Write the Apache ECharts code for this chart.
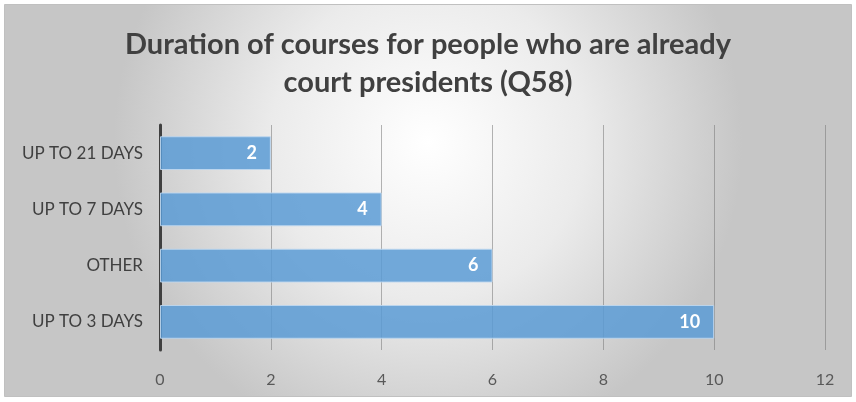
<!DOCTYPE html>
<html>
<head>
<meta charset="utf-8">
<script src="https://cdn.jsdelivr.net/npm/echarts@6/dist/echarts.min.js"></script>
<style>
  html, body { margin: 0; padding: 0; background: #ffffff; }
  #chart { width: 856px; height: 402px; }
</style>
</head>
<body>
<div id="chart"></div>
<script>
// Course duration categories, listed bottom-to-top as drawn on the category axis
const categories = ['UP TO 3 DAYS', 'OTHER', 'UP TO 7 DAYS', 'UP TO 21 DAYS'];
const counts = [10, 6, 4, 2];
const titleLines = ['Duration of courses for people who are already', 'court presidents (Q58)'];
const axisMax = 12;
const axisStep = 2;

const chart = echarts.init(document.getElementById('chart'), null, { renderer: 'canvas' });

chart.setOption({
  animation: false,
  backgroundColor: '#ffffff',
  graphic: [{
    type: 'rect',
    z: -10,
    silent: true,
    shape: { x: 4.5, y: 4.5, width: 847, height: 392 },
    style: {
      fill: {
        type: 'radial', x: 0.5, y: 0.35, r: 0.8,
        colorStops: [
          { offset: 0, color: '#ffffff' },
          { offset: 0.5, color: '#ebebeb' },
          { offset: 1, color: '#c6c6c6' }
        ]
      },
      stroke: '#c0c0c0',
      lineWidth: 1
    }
  }],
  title: {
    text: titleLines.join('\n'),
    left: 'center',
    top: 21,
    textStyle: {
      fontFamily: 'Lato',
      fontWeight: 'bold',
      fontSize: 29,
      color: '#404040',
      lineHeight: 38
    }
  },
  grid: {
    left: 160,
    right: 31,
    top: 125,
    bottom: 52,
    containLabel: false
  },
  xAxis: {
    type: 'value',
    min: 0,
    max: axisMax,
    interval: axisStep,
    axisLine: { show: false },
    axisTick: { show: false },
    axisLabel: {
      margin: 22,
      fontFamily: 'Lato',
      fontSize: 16,
      color: '#595959'
    },
    splitLine: {
      show: true,
      lineStyle: { color: 'rgba(120,120,120,0.55)', width: 1 }
    }
  },
  yAxis: {
    type: 'category',
    data: categories,
    axisLine: { show: true, lineStyle: { color: '#404040', width: 3 } },
    axisTick: { show: false },
    axisLabel: {
      margin: 17,
      fontFamily: 'Lato',
      fontSize: 17,
      color: '#404040'
    }
  },
  series: [{
    type: 'bar',
    data: counts,
    barCategoryGap: '40%',
    itemStyle: {
      color: 'rgba(91,155,213,0.85)',
      borderColor: 'rgba(190,215,240,0.9)',
      borderWidth: 1
    },
    label: {
      show: true,
      position: 'insideRight',
      distance: 14,
      fontFamily: 'Lato',
      fontWeight: 'bold',
      fontSize: 18,
      color: '#ffffff'
    }
  }]
});
</script>
</body>
</html>
